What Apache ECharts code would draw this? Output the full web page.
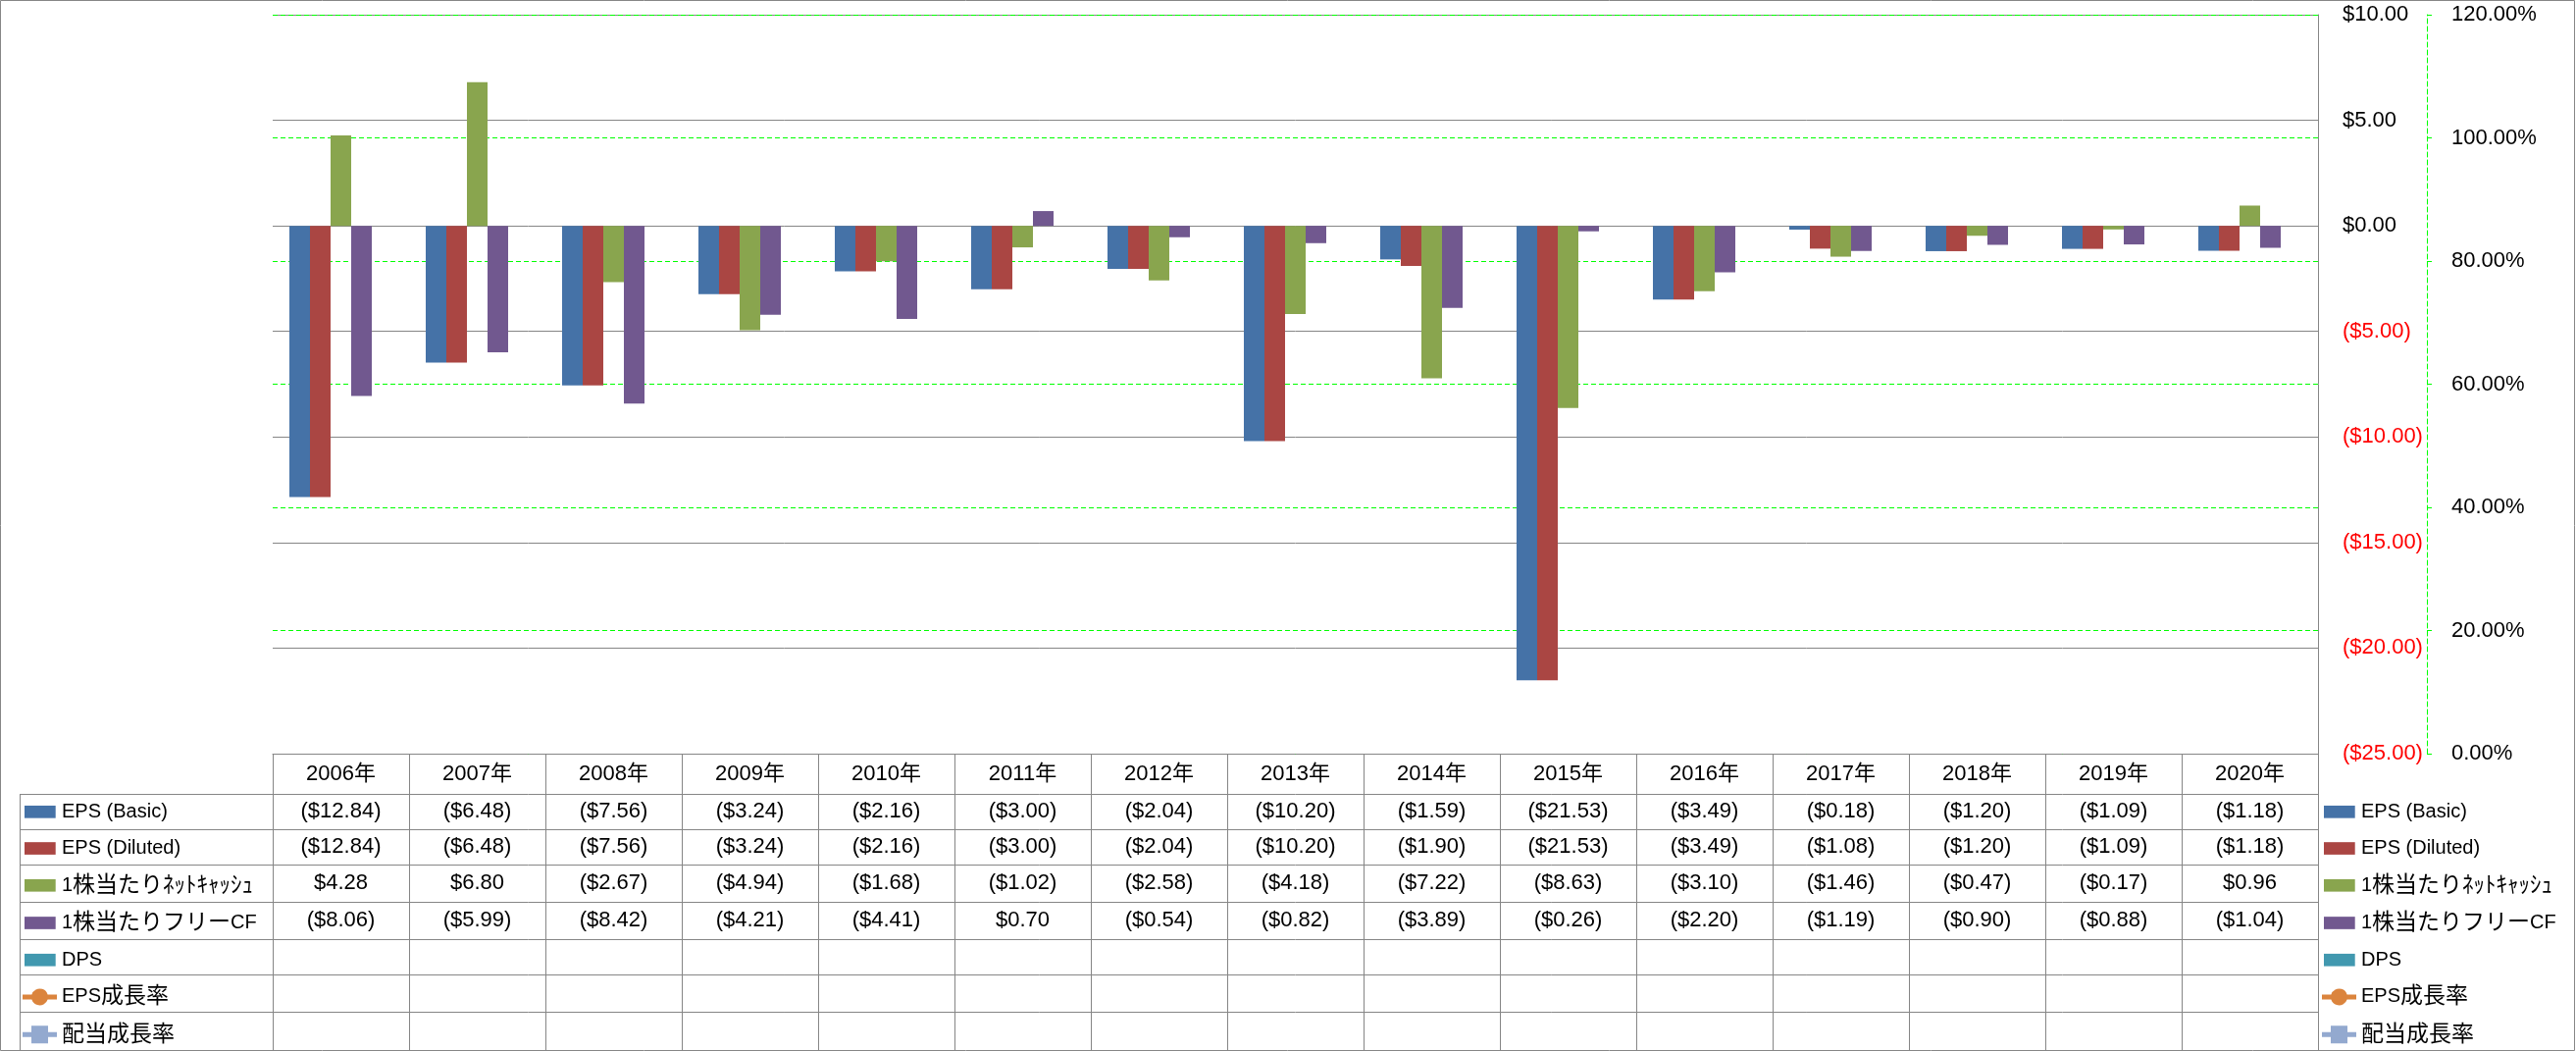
<!DOCTYPE html>
<html>
<head>
<meta charset="utf-8">
<script src="https://cdn.jsdelivr.net/npm/echarts@6/dist/echarts.min.js"></script>
<style>
html,body{margin:0;padding:0;background:#ffffff;}
#c{width:2626px;height:1071px;}
</style>
</head>
<body>
<div id="c"></div>
<script>
// ---------------- data ----------------
const years = ['2006年','2007年','2008年','2009年','2010年','2011年','2012年','2013年','2014年','2015年','2016年','2017年','2018年','2019年','2020年'];
const epsBasic   = [-12.84,-6.48,-7.56,-3.24,-2.16,-3.00,-2.04,-10.20,-1.59,-21.53,-3.49,-0.18,-1.20,-1.09,-1.18];
const epsDiluted = [-12.84,-6.48,-7.56,-3.24,-2.16,-3.00,-2.04,-10.20,-1.90,-21.53,-3.49,-1.08,-1.20,-1.09,-1.18];
const netCashPS  = [4.28,6.80,-2.67,-4.94,-1.68,-1.02,-2.58,-4.18,-7.22,-8.63,-3.10,-1.46,-0.47,-0.17,0.96];
const fcfPS      = [-8.06,-5.99,-8.42,-4.21,-4.41,0.70,-0.54,-0.82,-3.89,-0.26,-2.20,-1.19,-0.90,-0.88,-1.04];
const dps        = [null,null,null,null,null,null,null,null,null,null,null,null,null,null,null];
const epsGrowth  = [null,null,null,null,null,null,null,null,null,null,null,null,null,null,null];
const divGrowth  = [null,null,null,null,null,null,null,null,null,null,null,null,null,null,null];
const seriesNames = ['EPS (Basic)','EPS (Diluted)','1株当たりﾈｯﾄｷｬｯｼｭ','1株当たりフリーCF','DPS','EPS成長率','配当成長率'];
const primaryAxis = {min:-25, max:10, interval:5};
const secondaryAxis = {min:0, max:120, interval:20};

// ---------------- style / layout ----------------
const colors = ['#4572A7','#AA4643','#89A54E','#71588F','#4198AF','#DB843D','#93A9CF'];
const gray = '#868686';
const green = '#00FF00';
const FONT = "'Liberation Sans','Noto Sans CJK JP',sans-serif";
const FS = 22;
const plotL = 278, plotR = 2363, plotT = 15, plotB = 768;
const headerH = 41;
const rowTops = [809, 845, 881, 919, 957, 993, 1031];
const tableBottom = 1070;
const W = 2626, H = 1071;

function fmtMoney(v){
  if (v === null || v === undefined || isNaN(v)) return '';
  const s = '$' + Math.abs(v).toFixed(2);
  return v < 0 ? '(' + s + ')' : s;
}
function fmtPct(v){
  if (v === null || v === undefined || isNaN(v)) return '';
  return v.toFixed(2) + '%';
}

const tableRows = [
  {vals: epsBasic, fmt: fmtMoney},
  {vals: epsDiluted, fmt: fmtMoney},
  {vals: netCashPS, fmt: fmtMoney},
  {vals: fcfPS, fmt: fmtMoney},
  {vals: dps, fmt: fmtMoney},
  {vals: epsGrowth, fmt: fmtPct},
  {vals: divGrowth, fmt: fmtPct}
];

// ---------------- axes ----------------
const xAxes = [{
  type: 'category', gridIndex: 0, position: 'bottom', data: years,
  axisLine: {show: true, onZero: false, lineStyle: {color: gray, width: 1}},
  axisTick: {show: true, interval: 0, length: headerH, lineStyle: {color: gray, width: 1}},
  axisLabel: {interval: 0, margin: headerH / 2, verticalAlign: 'middle', color: '#000', fontSize: FS, fontFamily: FONT},
  splitLine: {show: false}
}];
tableRows.forEach(function(row, i){
  const top = rowTops[i];
  const bot = i < rowTops.length - 1 ? rowTops[i + 1] : tableBottom;
  xAxes.push({
    type: 'category', gridIndex: 0, position: 'bottom', data: years,
    offset: top - plotB,
    axisLine: {show: true, onZero: false, lineStyle: {color: gray, width: 1}},
    axisTick: {show: true, interval: 0, length: bot - top, lineStyle: {color: gray, width: 1}},
    axisLabel: {
      interval: 0, margin: (bot - top) / 2, verticalAlign: 'middle', color: '#000', fontSize: FS, fontFamily: FONT,
      formatter: function(v, idx){ return row.fmt(row.vals[idx]); }
    },
    splitLine: {show: false}
  });
});

const yAxes = [{
  type: 'value', gridIndex: 0, position: 'right',
  min: primaryAxis.min, max: primaryAxis.max, interval: primaryAxis.interval,
  axisLine: {show: true, lineStyle: {color: gray, width: 1}},
  axisTick: {show: false},
  splitLine: {show: true, lineStyle: {color: gray, width: 1}},
  axisLabel: {
    margin: 25, fontSize: FS, fontFamily: FONT,
    formatter: function(v){ return fmtMoney(v); },
    color: function(v){ return parseFloat(v) < 0 ? '#FF0000' : '#000000'; }
  }
},{
  type: 'value', gridIndex: 0, position: 'right', offset: 111,
  min: secondaryAxis.min, max: secondaryAxis.max, interval: secondaryAxis.interval,
  axisLine: {show: true, lineStyle: {color: green, width: 1, type: [5, 3]}},
  axisTick: {show: true, length: 5, lineStyle: {color: green, width: 1}},
  splitLine: {show: true, lineStyle: {color: green, width: 1, type: [5, 3]}},
  axisLabel: {
    margin: 25, fontSize: FS, fontFamily: FONT, color: '#000',
    formatter: function(v){ return fmtPct(v); }
  }
}];

// ---------------- series ----------------
const barData = [epsBasic, epsDiluted, netCashPS, fcfPS, dps];
const series = [];
barData.forEach(function(d, i){
  series.push({
    name: seriesNames[i], type: 'bar', xAxisIndex: 0, yAxisIndex: 0,
    data: d, barGap: '0%', barCategoryGap: '24.46%',
    itemStyle: {color: colors[i]}, silent: true
  });
});
[epsGrowth, divGrowth].forEach(function(d, j){
  const i = 5 + j;
  series.push({
    name: seriesNames[i], type: 'line', xAxisIndex: 0, yAxisIndex: 1,
    data: d, symbol: j === 0 ? 'circle' : 'rect', symbolSize: 14,
    itemStyle: {color: colors[i]}, lineStyle: {color: colors[i], width: 5}, silent: true
  });
});

// ---------------- legends ----------------
// icon box is 35x22; the leading "M0,0 M35,22" pins the path's bounding box to the full box
const barIcon = 'path://M0,0 M35,22 M2,4.65 L33.7,4.65 L33.7,17.35 L2,17.35 Z';
const circleIcon = 'path://M0,0 M35,22 M0,8.5 L9.38,8.5 A8.5,8.5 0 0 1 25.62,8.5 L35,8.5 L35,13.5 L25.62,13.5 A8.5,8.5 0 0 1 9.38,13.5 L0,13.5 Z';
const squareIcon = 'path://M0,0 M35,22 M0,8.5 L9,8.5 L9,2 L26,2 L26,8.5 L35,8.5 L35,13.5 L26,13.5 L26,20 L9,20 L9,13.5 L0,13.5 Z';
const legendData = seriesNames.map(function(n, i){
  return {name: n, icon: i < 5 ? barIcon : (i === 5 ? circleIcon : squareIcon), itemStyle: {color: colors[i], borderWidth: 0}};
});
// split each name into latin / CJK runs so each run gets its own size
function legendFormatter(name){
  const runs = name.match(/[\x00-\x7F]+|[^\x00-\x7F]+/g) || [];
  return runs.map(function(r){
    return /^[\x00-\x7F]+$/.test(r) ? '{l|' + r + '}' : '{j|' + r + '}';
  }).join('');
}
const itemH = 22;
const rowStep = (1050.7 - 827.3) / 6;
function makeLegend(left){
  return {
    orient: 'vertical', left: left, top: 827.3 - itemH / 2, height: 250,
    itemWidth: 35, itemHeight: itemH, itemGap: rowStep - itemH,
    symbolKeepAspect: true, selectedMode: false, padding: 0,
    data: legendData,
    formatter: legendFormatter,
    textStyle: {
      fontSize: FS, fontFamily: FONT, color: '#000', lineHeight: itemH,
      rich: {
        l: {fontSize: 20, fontFamily: FONT, color: '#000', lineHeight: itemH, verticalAlign: 'middle'},
        j: {fontSize: 23, fontFamily: FONT, color: '#000', lineHeight: itemH, verticalAlign: 'middle'}
      }
    }
  };
}

// ---------------- frame lines ----------------
const graphics = [{
  type: 'rect', silent: true, z: 100,
  shape: {x: 0.5, y: 0.5, width: 2624, height: 1070},
  style: {fill: 'none', stroke: gray, lineWidth: 1}
},{
  type: 'line', silent: true, z: 100,
  shape: {x1: 20.5, y1: rowTops[0], x2: 20.5, y2: tableBottom},
  style: {stroke: gray, lineWidth: 1}
}];
rowTops.forEach(function(y){
  graphics.push({
    type: 'line', silent: true, z: 100,
    shape: {x1: 20, y1: y + 0.5, x2: plotL, y2: y + 0.5},
    style: {stroke: gray, lineWidth: 1}
  });
});

const chart = echarts.init(document.getElementById('c'), null, {renderer: 'canvas', width: W, height: H});
chart.setOption({
  animation: false,
  backgroundColor: '#ffffff',
  textStyle: {fontFamily: FONT},
  grid: [{left: plotL, right: W - plotR, top: plotT, bottom: H - plotB, containLabel: false}],
  xAxis: xAxes,
  yAxis: yAxes,
  legend: [makeLegend(23), makeLegend(2367)],
  series: series,
  graphic: graphics
});
</script>
</body>
</html>
